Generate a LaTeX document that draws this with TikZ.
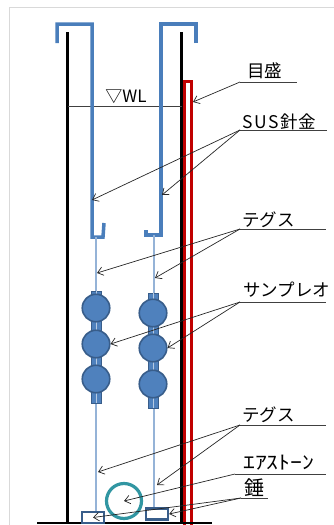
\documentclass[tikz,border=0pt]{standalone}
\usepackage{fontspec}
\usepackage{graphicx}
\newfontfamily\jp{Noto Sans CJK JP}
\usetikzlibrary{arrows.meta}
\definecolor{hookblue}{RGB}{74,126,187}
\definecolor{threadblue}{RGB}{149,179,215}
\definecolor{beadfill}{RGB}{79,129,189}
\definecolor{beaddraw}{RGB}{56,93,138}
\definecolor{scalered}{RGB}{192,0,0}
\definecolor{stoneteal}{RGB}{49,150,162}
\definecolor{framegray}{RGB}{217,217,217}

\begin{document}
\begin{tikzpicture}[x=1pt,y=-1pt,
 lbl/.style={anchor=base west,inner sep=0pt,font=\jp\fontsize{17.5}{18}\selectfont},
 ul/.style={line width=0.8pt,draw=black!75},
 arr/.style={->,line width=0.7pt,draw=black!85},
 hook/.style={draw=hookblue,line width=3.5pt},
 thread/.style={draw=threadblue,line width=1.2pt},
 bead/.style={circle,draw=beaddraw,fill=beadfill,line width=1.6pt,minimum size=27.5pt,inner sep=0pt},
 tab/.style={draw=beaddraw,fill=beadfill,line width=1pt},
 wt/.style={draw=beaddraw,fill=white,line width=2.4pt,minimum width=22pt,minimum height=11pt,inner sep=0pt},
 >={Straight Barb[length=5.5pt,width=8.5pt]}]
\useasboundingbox (0,0) rectangle (334,525);
\draw[framegray,line width=1pt] (9,525) -- (9,7) -- (334,7);

% column walls, water level, scale
\draw[line width=3.3pt] (67.5,32) -- (67.5,523);
\draw[line width=3.3pt] (181.5,32) -- (181.5,523);
\draw[line width=1pt,black!75] (67.5,106.5) -- (181.5,106.5);
\node[anchor=base,inner sep=0pt,font=\jp\fontsize{17}{17}\selectfont] (wl) at (126,102) {▽WL};
\draw[scalered,fill=white,line width=3pt] (184,81) rectangle (191.5,527);
\draw[line width=1.5pt] (37,523) -- (212,523);

% wire hooks
\draw[hook] (57,43) -- (57,24) -- (92,24) -- (92,237) -- (103,237) -- (104,223);
\draw[hook] (196,43) -- (196,24) -- (161,24) -- (161,235) -- (146,235) -- (146,230);

% lines with beads
\draw[thread] (96,237) -- (96,511);
\draw[thread] (154,235) -- (154,508);
\draw[tab] (91,291) rectangle (101,403);
\draw[tab] (148,293) rectangle (158,408);
\draw[threadblue!70!white,line width=0.7pt] (96,291) -- (96,403);
\draw[threadblue!70!white,line width=0.7pt] (153,293) -- (153,408);
\foreach \i/\y in {1/308,2/344,3/379}
  \node[bead] (bL\i) at (96,\y) {};
\foreach \i/\y in {1/313,2/348,3/384}
  \node[bead] (bR\i) at (153,\y) {};

% air stone and sinkers
\node[circle,draw=stoneteal,line width=3.2pt,minimum size=35pt,inner sep=0pt] (stone) at (124,501) {};
\node[wt] (wL) at (93,517.5) {};
\node[wt] (wR) at (157,514) {};

\coordinate (scaleTip) at (193,102);
\coordinate (hookL) at (92,200);
\coordinate (hookR) at (162,195);
\coordinate (lineL1) at (97,273);
\coordinate (lineR1) at (155,278);
\coordinate (lineL2) at (98,472);
\coordinate (lineR2) at (157,485);

% labels
\node[lbl] (tScale) at (247,77) {目盛};
\draw[ul] (240,82) coordinate (uScale) -- (297,82);
\node[lbl] (tWire) at (242,128) {S\kern1.8pt U\kern1.8pt S\kern1.5pt 針金};
\draw[ul] (240,130) coordinate (uWire) -- (327,130);
\node[lbl] (tLine1) at (242,226) {テグス};
\draw[ul] (240,229) coordinate (uLine1) -- (326,229);
\node[lbl] (tBead) at (243,296) {サンプレオ};
\draw[ul] (240,302) coordinate (uBead) -- (326,302);
\node[lbl] (tLine2) at (242,421) {テグス};
\draw[ul] (240,425) coordinate (uLine2) -- (326,425);
\node[lbl,font=\jp\fontsize{19}{19}\selectfont] (tStone) at (243,469) {\scalebox{1.25}[1]{ｴｱｽﾄｰﾝ}};
\draw[ul] (235,474) coordinate (uStone) -- (326,474);
\node[lbl,font=\jp\fontsize{20}{20}\selectfont] (tWeight) at (244,495) {錘};
\draw[ul] (241,498) coordinate (uWeight) -- (268,498);

\draw[arr] (uScale) -- (scaleTip);
\draw[arr] (uWire) -- (hookL);
\draw[arr] (uWire) -- (hookR);
\draw[arr] (uLine1) -- (lineL1);
\draw[arr] (uLine1) -- (lineR1);
\draw[arr] (uBead) -- (bL2.east);
\draw[arr] (uBead) -- (bR2.east);
\draw[arr] (uLine2) -- (lineL2);
\draw[arr] (uLine2) -- (lineR2);
\draw[arr] (uStone) -- (stone.center);
\draw[arr] (uWeight) -- (wL.center);
\draw[arr] (uWeight) -- (wR.east);
\end{tikzpicture}
\end{document}
